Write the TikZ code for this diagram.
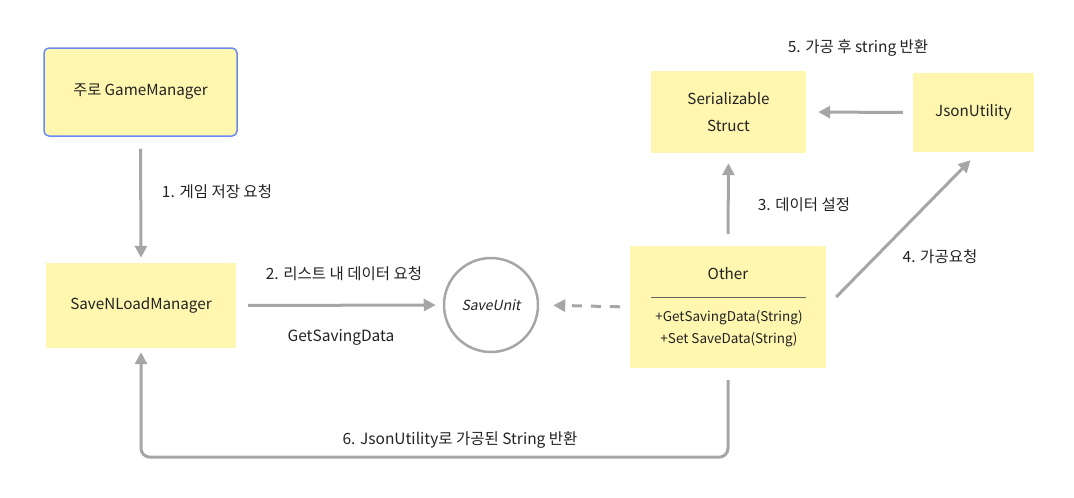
\documentclass[tikz,border=0pt]{standalone}
\usepackage{fontspec}
\setmainfont{Noto Sans CJK KR}
\newfontfamily\slfont[FakeSlant=0.2]{Noto Sans CJK KR}
\usetikzlibrary{arrows.meta}
\definecolor{boxy}{HTML}{FFF7B0}
\definecolor{arr}{HTML}{A6A6A6}
\definecolor{blu}{HTML}{6A8CF2}
\definecolor{txt}{HTML}{222222}
\begin{document}
\begin{tikzpicture}[x=1pt,y=-1pt,
  every node/.style={text=txt},
  box/.style={fill=boxy, draw=none, inner sep=0pt, align=center,
    font=\fontsize{15.2}{27}\selectfont},
  lbl/.style={font=\fontsize{15.5}{18}\selectfont, inner sep=0pt},
  arrow/.style={draw=arr, line width=3pt, -{Triangle[length=12pt,width=12pt]}}]
\useasboundingbox (0,0) rectangle (1074,498);
% nodes
\node[box, draw=blu, line width=1.5pt, rounded corners=5pt,
  minimum width=193pt, minimum height=88pt] (gm) at (140.5,92) {주로 GameManager};
\node[box, minimum width=190pt, minimum height=85pt] (snl) at (141,305.5) {SaveNLoadManager};
\node[circle, draw=arr, line width=2.5pt, minimum size=94pt, inner sep=0pt,
  font=\slfont\fontsize{14}{16}\selectfont] (su) at (491,305) {SaveUnit};
\node[box, minimum width=196pt, minimum height=122pt] (other) at (728,307) {};
\node[box, minimum width=155pt, minimum height=82pt] (ser) at (728.5,112) {Serializable\\Struct};
\node[box, minimum width=121pt, minimum height=79pt] (json) at (973.5,112.5) {JsonUtility};
% Other contents
\node[font=\fontsize{15.2}{17}\selectfont, inner sep=0pt] (otitle) at (728,274) {Other};
\coordinate (sepl) at (651,297);
\coordinate (sepr) at (806,297);
\draw[draw=txt!70, line width=0.8pt] (sepl) -- (sepr);
\node[font=\fontsize{13.5}{15}\selectfont, inner sep=0pt] (m1) at (729,318) {+GetSavingData(String)};
\node[font=\fontsize{13.5}{15}\selectfont, inner sep=0pt] (m2) at (729,340) {+Set SaveData(String)};
% connectors
\draw[arrow, shorten <=12pt, shorten >=5pt] (gm.south) -- (snl.north);
\draw[arrow, shorten <=12pt, shorten >=7pt] (snl.east) -- (su.west);
\draw[arrow, dash pattern=on 10pt off 9pt, shorten <=10pt, shorten >=14pt] (other.west) -- (su.east);
\draw[arrow, shorten <=12pt, shorten >=10pt] (other.north) -- (ser.south);
\draw[arrow] ([shift={(10,-10)}]other.east) -- ([shift={(-3,8)}]json.south);
\draw[arrow, shorten <=10pt, shorten >=12pt] (json.west) -- (ser.east);
\draw[arrow, rounded corners=9pt] ([shift={(0,12)}]other.south) -- ++(0,77) -| ([shift={(0,4)}]snl.south);
% labels
\node[lbl] (l5) at (858,48) {5. 가공 후 string 반환};
\node[lbl] (l1) at (217,192) {1. 게임 저장 요청};
\node[lbl] (l2) at (344,274) {2. 리스트 내 데이터 요청};
\node[lbl] (l2b) at (341,337) {GetSavingData};
\node[lbl] (l3) at (804,205) {3. 데이터 설정};
\node[lbl] (l4) at (940,257) {4. 가공요청};
\node[lbl] (l6) at (460,440) {6. JsonUtility로 가공된 String 반환};
\end{tikzpicture}
\end{document}
